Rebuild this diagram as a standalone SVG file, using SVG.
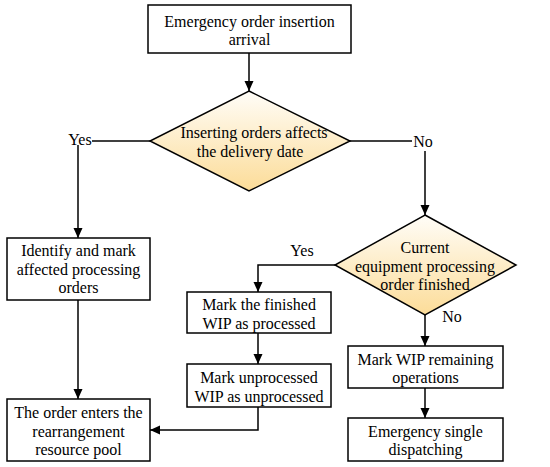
<svg xmlns="http://www.w3.org/2000/svg" width="550" height="467" viewBox="0 0 550 467">
<defs>
<linearGradient id="dg" x1="0" y1="0" x2="0" y2="1">
<stop offset="0" stop-color="#fffdf8"/>
<stop offset="1" stop-color="#fcdc98"/>
</linearGradient>
<marker id="ah" markerWidth="10" markerHeight="10" viewBox="0 0 10 10" refX="10" refY="5" orient="auto" markerUnits="userSpaceOnUse">
<path d="M0,0.5 L10,5 L0,9.5 Z" fill="#000"/>
</marker>
<style>
rect{fill:#fff;stroke:#000;stroke-width:1.5}
.d{fill:url(#dg);stroke:#000;stroke-width:1.5}
text{font-family:"Liberation Serif","Times New Roman",serif;font-size:16px;fill:#000;text-anchor:middle;dominant-baseline:central}
.c{fill:none;stroke:#000;stroke-width:1.5}
</style>
</defs>
<rect x="0" y="0" width="550" height="467" style="fill:#fff;stroke:none"/>
<g id="connectors">
<path class="c" d="M249,53 V91" marker-end="url(#ah)"/>
<path class="c" d="M150,141 H92"/>
<path class="c" d="M78,145 V238" marker-end="url(#ah)"/>
<path class="c" d="M350,141 H412"/>
<path class="c" d="M425,151 V215" marker-end="url(#ah)"/>
<path class="c" d="M78,300 V399" marker-end="url(#ah)"/>
<path class="c" d="M335,265 H258 V292" marker-end="url(#ah)"/>
<path class="c" d="M258,333 V364" marker-end="url(#ah)"/>
<path class="c" d="M258,407 V430 H150" marker-end="url(#ah)"/>
<path class="c" d="M425,315 V346" marker-end="url(#ah)"/>
<path class="c" d="M425,388 V418" marker-end="url(#ah)"/>
<text x="80" y="139">Yes</text>
<text x="423" y="141">No</text>
<text x="302" y="250">Yes</text>
<text x="452" y="316">No</text>
</g>
<g id="start">
<rect x="148" y="5" width="203" height="48"/>
<text x="249.5" y="21">Emergency order insertion</text>
<text x="249.5" y="39">arrival</text>
</g>
<g id="decision1">
<polygon class="d" points="249,91 350,141 249,191 150,141"/>
<text x="254" y="132">Inserting orders affects</text>
<text x="250" y="151">the delivery date</text>
</g>
<g id="identify">
<rect x="7" y="238" width="143" height="62"/>
<text x="78.5" y="250">Identify and mark</text>
<text x="78.5" y="269">affected processing</text>
<text x="78.5" y="287">orders</text>
</g>
<g id="pool">
<rect x="7" y="399" width="143" height="62"/>
<text x="78.5" y="412">The order enters the</text>
<text x="78.5" y="431">rearrangement</text>
<text x="78.5" y="449">resource pool</text>
</g>
<g id="decision2">
<polygon class="d" points="425,215 516,265 425,315 335,265"/>
<text x="425" y="247">Current</text>
<text x="425" y="266">equipment processing</text>
<text x="425" y="284">order finished</text>
</g>
<g id="markFinished">
<rect x="187" y="292" width="144" height="41"/>
<text x="259" y="304">Mark the finished</text>
<text x="259" y="323">WIP as processed</text>
</g>
<g id="markUnprocessed">
<rect x="187" y="364" width="144" height="43"/>
<text x="259" y="377">Mark unprocessed</text>
<text x="259" y="396">WIP as unprocessed</text>
</g>
<g id="markRemaining">
<rect x="348" y="346" width="155" height="42"/>
<text x="425.5" y="359">Mark WIP remaining</text>
<text x="425.5" y="377">operations</text>
</g>
<g id="dispatch">
<rect x="348" y="418" width="155" height="43"/>
<text x="425.5" y="431">Emergency single</text>
<text x="425.5" y="449">dispatching</text>
</g>
</svg>
